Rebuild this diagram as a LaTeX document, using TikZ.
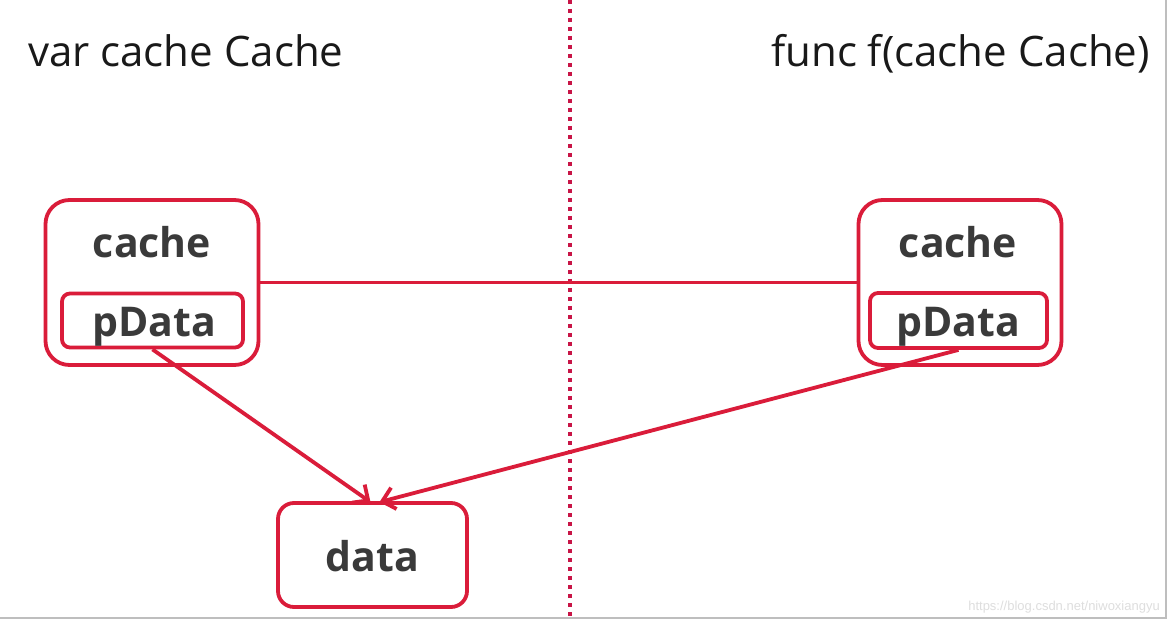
\documentclass[tikz,border=0pt]{standalone}
\usepackage{fontspec}
\setmainfont{Open Sans}
\newfontfamily\wmfont{Liberation Sans}
\usetikzlibrary{arrows.meta}
\definecolor{boxred}{RGB}{218,28,58}
\definecolor{dotred}{RGB}{200,20,70}
\definecolor{labelgray}{RGB}{58,58,58}
\definecolor{framegray}{RGB}{190,190,190}
\tikzset{
  outerbox/.style={draw=boxred, line width=3.8pt, rounded corners=24pt, fill=white, inner sep=0pt},
  innerbox/.style={draw=boxred, line width=3.8pt, rounded corners=8pt, inner sep=0pt},
  boldlabel/.style={font=\fontsize{41}{41}\selectfont\bfseries, text=labelgray, inner sep=0pt},
  toptext/.style={font=\fontsize{42}{42}\selectfont, text=black!90, inner sep=0pt},
  link/.style={draw=boxred, line width=3.8pt},
  pointer/.style={draw=boxred, line width=3.8pt, -{Straight Barb[length=12pt,width=22pt]}},
}
\begin{document}
\begin{tikzpicture}[x=1pt,y=-1pt]
\useasboundingbox (0,0) rectangle (1168,620);
\fill[white] (0,0) rectangle (1168,620);
% frame lines
\coordinate (frTR) at (1166,0);
\coordinate (frBR) at (1166,618);
\coordinate (frBL) at (0,618);
\draw[framegray, line width=1.5pt] (frTR) -- (frBR) -- (frBL);
% divider
\coordinate (divTop) at (570,0);
\coordinate (divBot) at (570,617);
\draw[dotred, line width=4pt, dash pattern=on 4pt off 5pt] (divTop) -- (divBot);
% headings
\node[toptext, anchor=base west] (lefthead) at (28,67) {var cache Cache};
\node[toptext, anchor=base east] (righthead) at (1150,67) {func f(cache Cache)};
% left structure
\node[outerbox, minimum width=213pt, minimum height=165pt] (louter) at (152,282.5) {};
\node[boldlabel] (lcache) at (152,242) {cache};
\node[innerbox, minimum width=181pt, minimum height=54pt] (linner) at (152.5,320.5) {};
\node[boldlabel, anchor=base] (lpdata) at (154,337) {pData};
% right structure
\node[outerbox, minimum width=203pt, minimum height=165pt] (router) at (960,282.5) {};
\node[boldlabel] (rcache) at (958,242) {cache};
\node[innerbox, minimum width=177pt, minimum height=55pt] (rinner) at (958.5,320.5) {};
\node[boldlabel, anchor=base] (rpdata) at (958,337) {pData};
% data
\node[outerbox, rounded corners=16pt, minimum width=189pt, minimum height=104pt] (data) at (372.5,555) {};
\node[boldlabel, anchor=base] (datalabel) at (372.5,571) {data};
% connectors
\draw[link] (louter.east) -- (router.west);
\draw[pointer] (linner.south) -- ([xshift=-2pt,yshift=-1pt]data.north);
\draw[pointer] (rinner.south) -- ([xshift=7pt,yshift=-1pt]data.north);
% watermark
\node[anchor=base east, inner sep=0pt, font=\wmfont\fontsize{13}{13}\selectfont, text=black!13] (wm) at (1160,610) {https://blog.csdn.net/niwoxiangyu};
\end{tikzpicture}
\end{document}
